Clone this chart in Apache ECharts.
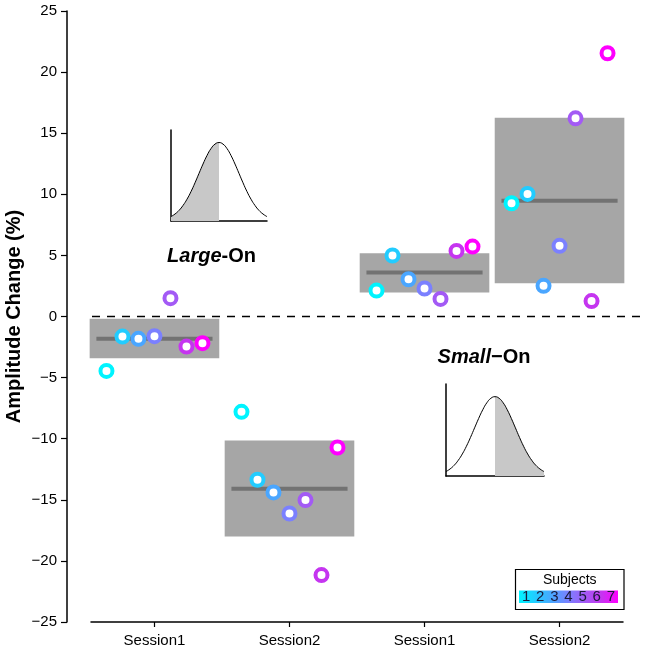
<!DOCTYPE html>
<html><head><meta charset="utf-8">
<script src="https://cdn.jsdelivr.net/npm/echarts@6/dist/echarts.min.js"></script>
<style>html,body{margin:0;padding:0;background:#fff}#c{width:649px;height:652px}</style>
</head><body><div id="c"></div>
<script>
// ---- data ----
const sessionLabels = ['Session1', 'Session2', 'Session1', 'Session2'];
const subjects = ['1', '2', '3', '4', '5', '6', '7'];
const subjectColors = ['#00F4FF', '#22CCFF', '#4AA6FF', '#7B80FF', '#A35AF5', '#C535F0', '#FF00FF'];
const largeOnSession1 = [-4.45, -1.64, -1.83, -1.61, 1.5, -2.46, -2.18];
const largeOnSession2 = [-7.8, -13.36, -14.4, -16.12, -15.02, -21.16, -10.72];
const smallOnSession1 = [2.12, 4.99, 3.05, 2.29, 1.44, 5.37, 5.72];
const smallOnSession2 = [9.27, 10.03, 2.51, 5.78, 16.22, 1.26, 21.54];
const groupMeans = [-1.83, -14.1, 3.6, 9.48];
const boxLow = [-3.41, -18.0, 1.96, 2.73];
const boxHigh = [-0.19, -10.15, 5.18, 16.27];
// schematic bell curve for the insets (relative heights)
const bellCurve = [0.056, 0.089, 0.135, 0.198, 0.278, 0.375, 0.487, 0.607, 0.726, 0.835, 0.923, 0.980, 1.000,
                   0.980, 0.923, 0.835, 0.726, 0.607, 0.487, 0.375, 0.278, 0.198, 0.135, 0.089, 0.056];

// ---- build ----
const groupValues = [largeOnSession1, largeOnSession2, smallOnSession1, smallOnSession2];
const groupPos = sessionLabels.map((_, i) => i + 1);
const DODGE = 0.1185;
const FONT = '"Liberation Sans", Arial, Helvetica, sans-serif';

const chart = echarts.init(document.getElementById('c'), null, {renderer: 'canvas'});

const boxData = groupPos.map((g, i) => [g, boxLow[i], boxHigh[i], groupMeans[i]]);

const scatterSeries = subjects.map((s, si) => ({
  type: 'scatter',
  name: s,
  xAxisIndex: 0, yAxisIndex: 0,
  symbol: 'circle',
  symbolSize: 12,
  z: 5,
  itemStyle: {color: '#ffffff', borderColor: subjectColors[si], borderWidth: 4, opacity: 1},
  emphasis: {disabled: true},
  data: groupPos.map((g, gi) => [g + (si - 3) * DODGE, groupValues[gi][si]])
}));

const bellIdx = bellCurve.map((v, i) => [i, v]);
const half = Math.floor(bellCurve.length / 2);

function insetAxes(gi) {
  return {
    x: {type: 'value', gridIndex: gi, min: 0, max: bellCurve.length - 1,
        axisLine: {show: true, onZero: false, lineStyle: {color: '#000', width: 1.5}},
        axisTick: {show: false}, axisLabel: {show: false}, splitLine: {show: false}},
    y: {type: 'value', gridIndex: gi, min: 0, max: 1.16,
        axisLine: {show: true, lineStyle: {color: '#000', width: 1.5}},
        axisTick: {show: false}, axisLabel: {show: false}, splitLine: {show: false}}
  };
}
const in1 = insetAxes(1), in2 = insetAxes(2);

const option = {
  backgroundColor: '#ffffff',
  animation: false,
  textStyle: {fontFamily: FONT},
  grid: [
    {left: 91, right: 26, top: 11, bottom: 30, containLabel: false, outerBoundsMode: 'none'},
    {left: 171, top: 130, width: 96, height: 91, containLabel: false, outerBoundsMode: 'none'},
    {left: 446, top: 384, width: 98, height: 92, containLabel: false, outerBoundsMode: 'none'}
  ],
  xAxis: [
    {type: 'value', gridIndex: 0, min: 0.53, max: 4.47,
     axisLine: {show: true, onZero: false, lineStyle: {color: '#000', width: 1.5}},
     axisTick: {show: true, customValues: groupPos, length: 5, lineStyle: {color: '#000', width: 1.2}},
     axisLabel: {show: true, customValues: groupPos, margin: 11, color: '#000', fontSize: 15, fontFamily: FONT,
                 formatter: v => sessionLabels[Math.round(v) - 1] || ''},
     splitLine: {show: false}},
    in1.x, in2.x
  ],
  yAxis: [
    {type: 'value', gridIndex: 0, min: -25, max: 25, interval: 5, offset: 24,
     axisLine: {show: true, onZero: false, lineStyle: {color: '#000', width: 1.5}},
     axisTick: {show: true, length: 6, lineStyle: {color: '#000', width: 1.2}},
     axisLabel: {color: '#000', fontSize: 15, margin: 10, fontFamily: FONT,
                 formatter: v => String(v).replace('-', '\u2212')},
     splitLine: {show: false},
     name: 'Amplitude Change (%)', nameLocation: 'middle', nameGap: 43, nameMoveOverlap: false,
     nameTextStyle: {color: '#000', fontSize: 20, fontWeight: 'bold', fontFamily: FONT}},
    in1.y, in2.y
  ],
  series: [
    {
      type: 'custom',
      xAxisIndex: 0, yAxisIndex: 0,
      z: 2,
      data: boxData,
      encode: {x: 0, y: [1, 2]},
      renderItem: function (params, api) {
        const x = api.value(0), lo = api.value(1), hi = api.value(2), m = api.value(3);
        const p1 = api.coord([x - 0.48, hi]);
        const p2 = api.coord([x + 0.48, lo]);
        const m1 = api.coord([x - 0.43, m]);
        const m2 = api.coord([x + 0.43, m]);
        return {
          type: 'group',
          children: [
            {type: 'rect', shape: {x: p1[0], y: p1[1], width: p2[0] - p1[0], height: p2[1] - p1[1]},
             style: {fill: '#A6A6A6'}},
            {type: 'line', shape: {x1: m1[0], y1: m1[1], x2: m2[0], y2: m2[1]},
             style: {stroke: '#727272', lineWidth: 4}}
          ]
        };
      }
    },
    ...scatterSeries,
    // Large-On inset: left half shaded
    {type: 'line', xAxisIndex: 1, yAxisIndex: 1, data: bellIdx.slice(0, half + 1), smooth: true,
     symbol: 'none', lineStyle: {width: 0}, areaStyle: {color: '#C8C8C8', opacity: 1}, z: 1},
    {type: 'line', xAxisIndex: 1, yAxisIndex: 1, data: bellIdx, smooth: true,
     symbol: 'none', lineStyle: {color: '#000', width: 1}, z: 2},
    // Small-On inset: right half shaded
    {type: 'line', xAxisIndex: 2, yAxisIndex: 2, data: bellIdx.slice(half), smooth: true,
     symbol: 'none', lineStyle: {width: 0}, areaStyle: {color: '#C8C8C8', opacity: 1}, z: 1},
    {type: 'line', xAxisIndex: 2, yAxisIndex: 2, data: bellIdx, smooth: true,
     symbol: 'none', lineStyle: {color: '#000', width: 1}, z: 2}
  ]
};
chart.setOption(option);

// decorations: zero line, condition labels, subject legend
const y0 = chart.convertToPixel({yAxisIndex: 0}, 0);
const legendX = 515.5, legendY = 569.5, legendW = 108.5, legendH = 40;
const barX = 519, barY = 590.5, barW = 99, barH = 12.5;
const rich = {
  a: {fontStyle: 'italic', fontWeight: 'bold', fontSize: 20, fontFamily: FONT, fill: '#000'},
  b: {fontWeight: 'bold', fontSize: 20, fontFamily: FONT, fill: '#000'}
};
const graphics = [
  {type: 'line', z: 1, shape: {x1: 92, y1: y0, x2: 646, y2: y0},
   style: {stroke: '#000', lineWidth: 1.5, lineDash: [8, 7]}},
  {type: 'text', x: 211.5, y: 256, z: 10,
   style: {text: '{a|Large}{b|-On}', align: 'center', verticalAlign: 'middle', rich: rich}},
  {type: 'text', x: 484, y: 357, z: 10,
   style: {text: '{a|Small}{b|\u2212On}', align: 'center', verticalAlign: 'middle', rich: rich}},
  {type: 'rect', z: 10, shape: {x: legendX, y: legendY, width: legendW, height: legendH},
   style: {fill: '#fff', stroke: '#000', lineWidth: 1.2}},
  {type: 'text', z: 11, x: legendX + legendW / 2, y: 580,
   style: {text: 'Subjects', align: 'center', verticalAlign: 'middle', fontSize: 14, fontFamily: FONT, fill: '#000'}},
  {type: 'rect', z: 11, shape: {x: barX, y: barY, width: barW, height: barH},
   style: {fill: new echarts.graphic.LinearGradient(0, 0, 1, 0,
     subjectColors.map((c, i) => ({offset: i / (subjectColors.length - 1), color: c})))}}
];
subjects.forEach((s, i) => {
  graphics.push({type: 'text', z: 12, x: barX + (i + 0.5) * barW / subjects.length, y: barY + barH / 2 + 0.5,
    style: {text: s, align: 'center', verticalAlign: 'middle', fontSize: 15, fontFamily: FONT, fill: '#1a1a3a'}});
});
chart.setOption({graphic: graphics});
</script>
</body></html>
